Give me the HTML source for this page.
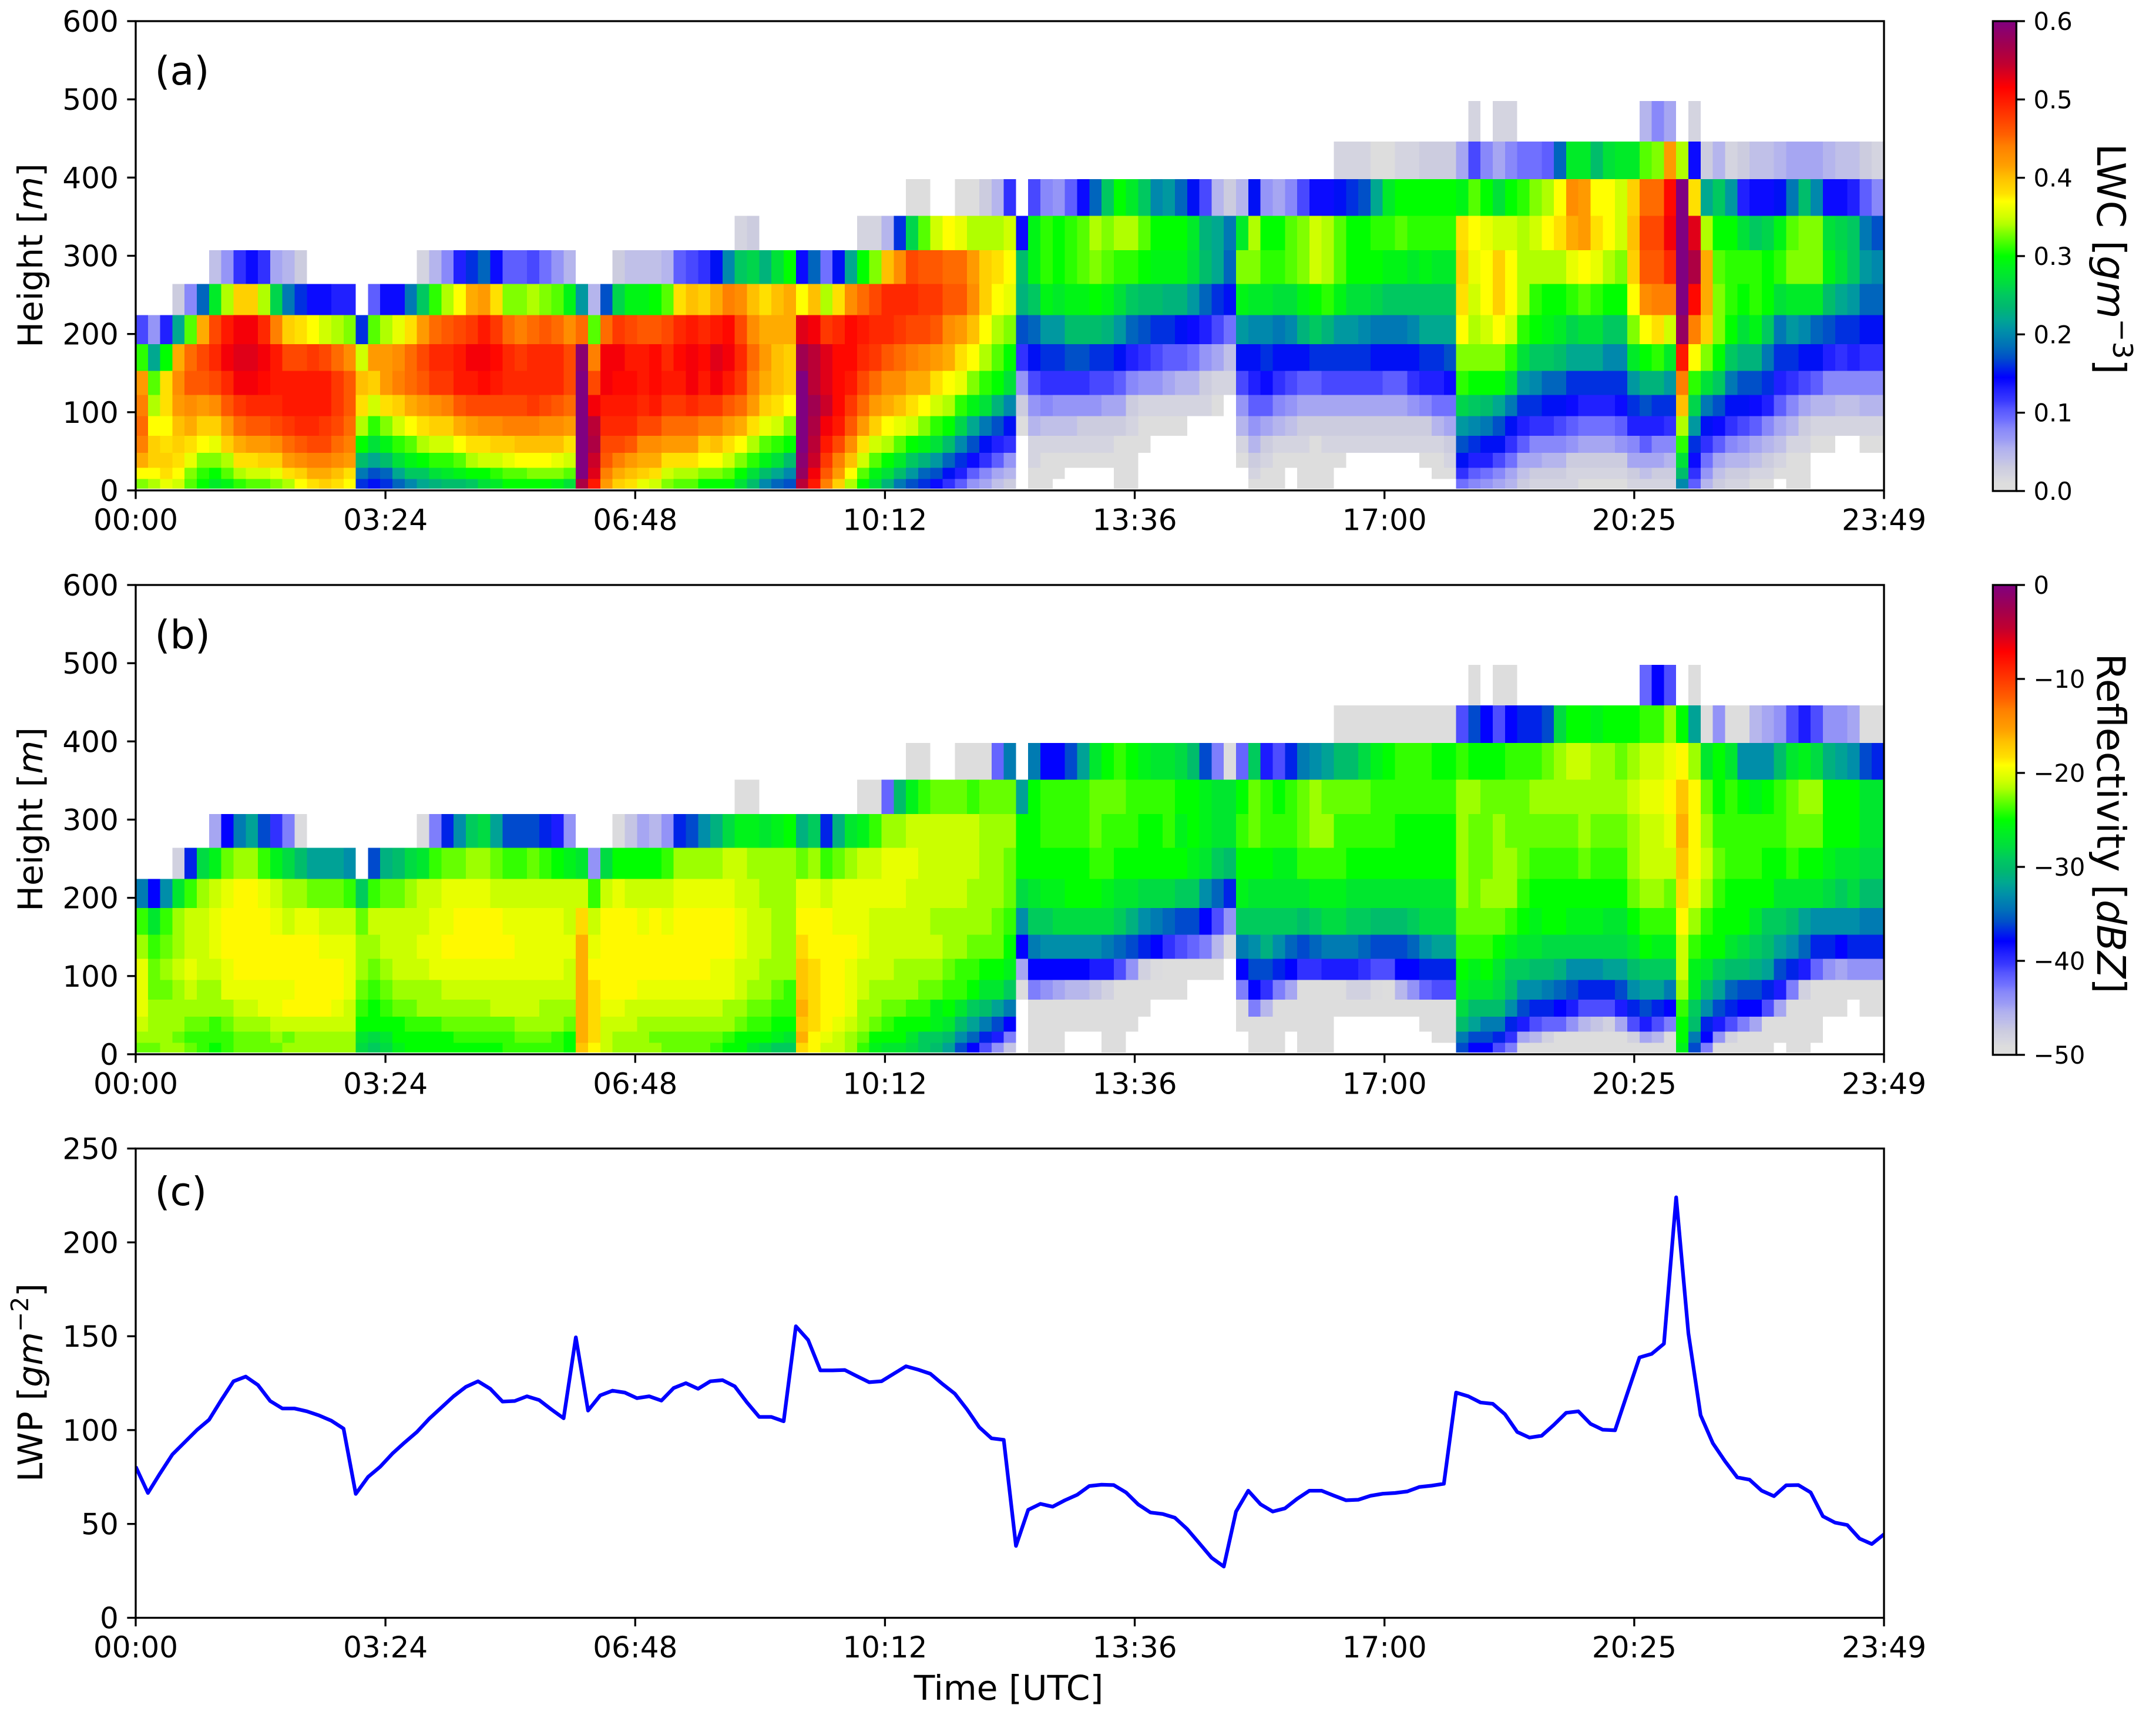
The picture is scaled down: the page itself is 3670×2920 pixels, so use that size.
<!DOCTYPE html>
<html lang="en">
<head>
<meta charset="utf-8">
<title>LWC, reflectivity and LWP time-height chart</title>
<style>
html,body{margin:0;padding:0;background:#fff;}
svg{display:block;}
text{font-family:"DejaVu Sans","Liberation Sans",sans-serif;fill:#000;}
</style>
</head>
<body>
<svg id="figure" xmlns="http://www.w3.org/2000/svg" width="3670" height="2920" viewBox="0 0 3670 2920">
<defs>
<linearGradient id="cmap" x1="0" y1="1" x2="0" y2="0"></linearGradient>
<clipPath id="lineClip"><rect x="231" y="1955.5" width="2976" height="799"></rect></clipPath>
</defs>
<rect x="0" y="0" width="3670" height="2920" fill="#fff"></rect>
<g id="panelA"></g>
<g id="panelB"></g>
<g id="panelC"></g>
<g id="barA"></g>
<g id="barB"></g>

<text x="263.5" y="144" font-size="66.67">(a)</text>
<text x="263.5" y="1104" font-size="66.67">(b)</text>
<text x="263.5" y="2052" font-size="66.67">(c)</text>

<text transform="translate(72,435) rotate(-90)" text-anchor="middle" font-size="58.33">Height [<tspan font-style="italic">m</tspan>]</text>
<text transform="translate(72,1395) rotate(-90)" text-anchor="middle" font-size="58.33">Height [<tspan font-style="italic">m</tspan>]</text>
<text transform="translate(72,2354) rotate(-90)" text-anchor="middle" font-size="58.33">LWP [<tspan font-style="italic">gm</tspan><tspan font-size="40.8" dy="-24">−2</tspan><tspan dy="24">]</tspan></text>
<text x="1717" y="2894" text-anchor="middle" font-size="58.33">Time [UTC]</text>
<text transform="translate(3570,441) rotate(90)" text-anchor="middle" font-size="66.67">LWC [<tspan font-style="italic">gm</tspan><tspan font-size="46.7" dy="-27">−3</tspan><tspan dy="27">]</tspan></text>
<text transform="translate(3570,1402) rotate(90)" text-anchor="middle" font-size="66.67">Reflectivity [<tspan font-style="italic">dBZ</tspan>]</text>
</svg>
<script>
const _ = null;

// Category labels and ticks
const timeTickLabels = ['00:00','03:24','06:48','10:12','13:36','17:00','20:25','23:49'];
const heightTicks = [0,100,200,300,400,500,600];
const lwpTicks = [0,50,100,150,200,250];
const lwcBarTicks = [0,0.1,0.2,0.3,0.4,0.5,0.6];
const dbzBarTicks = [-50,-40,-30,-20,-10,0];

// Height gate edges in metres (bottom of lowest gate to top of highest)
const gateEdges = [2.4,14.5,29,48,70,95,122,153,187,224,264,307,351,398,446,498];

// LWC in units of 0.01 g m-3; one array per height gate, one value per 10-minute sample
const lwcGate00 = [33,34,36,35,32,30,28,29,31,32,
32,33,34,37,38,39,38,37,16,15,
16,18,20,22,23,24,24,25,27,28,
30,30,30,30,29,27,56,50,42,39,
38,36,35,33,32,32,30,30,30,27,
24,20,18,17,55,50,44,39,34,30,
27,23,19,17,16,14,12,10,7,6,
4,3,_,1,1,_,_,_,_,_,
1,1,_,_,_,_,_,_,_,_,
_,1,1,1,_,1,1,1,_,_,
_,_,_,_,_,_,_,_,9,8,
7,6,5,3,2,2,2,2,1,1,
1,1,2,2,2,2,20,10,5,3,
2,2,1,1,_,1,1,_,_,_,
_,_,_];
const lwcGate01 = [37,37,38,37,33,31,30,32,34,35,
35,36,38,39,41,41,40,38,19,17,
18,22,25,25,27,28,29,30,30,31,
32,32,33,33,33,32,60,53,44,41,
40,39,38,35,34,34,33,33,32,30,
27,24,22,20,58,52,46,42,37,32,
29,27,24,21,18,17,15,13,10,8,
6,5,_,1,1,1,_,_,_,_,
1,1,_,_,_,_,_,_,_,_,
_,2,1,1,_,1,1,1,_,_,
_,_,_,_,_,_,1,1,12,10,
9,8,6,4,3,3,3,2,2,2,
2,2,3,4,3,3,24,12,7,4,
3,3,2,2,1,1,1,_,_,_,
_,_,_];
const lwcGate02 = [41,39,39,38,36,33,33,34,38,38,
39,39,42,43,44,44,43,42,24,22,
24,27,29,30,31,31,32,34,35,35,
36,37,37,37,36,35,60,54,46,44,
42,41,41,38,38,38,37,37,35,33,
31,29,27,24,59,54,48,44,40,35,
32,30,28,25,23,21,18,16,14,12,
10,7,_,2,1,1,1,1,1,1,
1,1,_,_,_,_,_,_,_,_,
1,3,2,1,1,1,1,1,1,_,
_,_,_,_,_,1,1,2,15,13,
13,11,9,6,6,5,5,3,3,3,
3,3,6,6,6,5,27,14,9,6,
5,5,4,3,2,1,1,_,_,_,
_,_,_];
const lwcGate03 = [44,39,38,39,38,37,36,39,41,42,
42,43,45,46,47,47,45,44,30,27,
29,31,32,34,35,35,37,38,38,39,
39,40,40,40,40,38,60,56,47,47,
46,43,43,42,42,42,39,40,38,37,
34,32,31,30,60,55,50,47,43,38,
35,34,32,30,29,27,24,20,17,15,
13,12,_,2,2,2,2,2,2,2,
1,1,1,_,_,_,_,_,_,_,
2,5,3,2,2,2,1,2,2,2,
2,2,2,2,2,2,2,3,17,16,
15,15,12,10,8,8,8,7,6,6,
6,7,8,10,8,8,31,16,12,10,
8,7,6,5,4,2,2,1,1,_,
_,1,1];
const lwcGate04 = [45,37,37,40,41,39,39,42,45,46,
46,47,48,49,49,48,47,45,34,31,
33,35,37,38,39,39,41,42,43,43,
44,44,44,43,43,42,60,55,49,49,
49,47,47,45,45,45,44,44,42,41,
38,36,35,33,60,56,52,50,46,42,
39,37,36,35,33,31,30,26,22,19,
17,15,1,5,4,4,4,3,3,3,
3,2,1,1,1,1,_,_,_,_,
5,7,6,5,4,3,3,3,3,3,
3,3,3,3,3,3,5,6,21,20,
19,17,15,13,12,12,11,10,9,9,
9,10,13,13,13,12,34,21,15,14,
12,11,10,8,6,5,3,2,2,2,
2,2,2];
const lwcGate05 = [44,34,38,42,43,42,43,46,48,49,
49,49,50,50,50,50,48,46,38,35,
38,39,41,42,43,44,46,47,47,47,
47,47,48,47,46,45,60,52,50,50,
50,49,50,48,48,49,48,48,46,45,
42,39,38,37,60,57,54,51,48,45,
42,41,40,38,37,35,34,31,29,27,
23,20,3,7,8,7,7,7,7,6,
6,3,2,2,2,2,2,2,1,_,
7,10,10,8,7,6,6,6,6,6,
6,6,6,6,7,8,9,9,26,25,
24,22,19,16,16,15,15,14,13,13,
13,14,16,17,16,16,40,26,19,17,
15,15,14,13,10,8,6,5,5,4,
4,5,5];
const lwcGate06 = [42,32,38,43,46,46,47,49,52,52,
51,50,50,50,50,50,48,46,40,39,
42,44,45,46,48,48,50,50,51,50,
49,49,49,49,49,47,60,47,52,51,
51,50,51,50,50,52,50,52,50,48,
44,41,40,39,60,55,53,51,50,47,
45,43,43,41,41,38,37,36,33,31,
30,27,7,11,12,12,12,12,11,11,
10,8,7,7,6,5,5,3,2,2,
11,13,14,12,11,10,10,11,11,11,
11,11,10,10,12,13,13,14,31,30,
30,30,27,21,20,18,18,16,16,16,
16,16,21,23,23,21,44,31,27,25,
19,17,17,16,13,12,11,10,8,8,
8,8,8];
const lwcGate07 = [31,22,30,41,45,47,49,52,53,53,
52,50,47,47,48,47,45,43,35,42,
42,43,45,47,49,49,50,52,52,51,
49,48,49,49,49,47,59,44,52,52,
50,50,51,49,51,52,51,53,52,49,
45,42,40,39,57,55,53,51,51,49,
48,46,45,44,43,42,41,38,37,34,
32,30,12,15,16,16,17,17,16,16,
15,13,12,11,10,10,9,7,6,4,
15,15,16,15,15,15,16,16,16,16,
16,15,15,15,15,16,16,17,33,33,
33,33,31,27,25,25,24,22,22,22,
20,20,28,30,31,28,50,37,33,30,
25,23,23,19,16,16,15,15,13,12,
13,12,12];
const lwcGate08 = [11,7,13,22,32,41,47,50,52,52,
49,44,39,38,37,35,34,33,16,32,
34,36,38,42,45,46,47,48,50,48,
45,44,45,46,45,43,45,32,45,48,
47,46,46,47,49,50,49,50,51,47,
43,41,41,41,53,52,48,49,51,50,
49,49,48,47,47,46,43,42,40,37,
34,33,17,18,21,21,24,24,24,23,
21,18,17,16,16,15,14,13,11,9,
21,20,20,19,20,23,25,23,21,21,
20,19,19,19,20,22,22,22,37,34,
35,37,35,31,30,29,28,26,27,27,
25,25,33,37,38,35,58,44,39,33,
30,27,29,25,19,21,20,18,17,16,
16,15,15];
const lwcGate09 = [_,_,_,3,8,18,28,34,39,39,
34,26,19,16,14,14,13,13,_,10,
14,14,19,25,31,34,37,41,42,38,
33,33,34,33,32,29,21,5,17,26,
29,29,30,32,38,40,39,41,44,43,
40,38,40,41,37,40,34,38,43,45,
47,49,49,49,48,48,46,46,43,39,
37,36,23,25,29,28,29,29,30,29,
27,25,24,24,23,23,21,18,16,15,
29,28,28,27,27,29,30,31,29,27,
27,26,25,25,25,25,25,25,38,35,
37,39,37,34,31,30,30,31,32,31,
30,30,37,43,44,44,60,51,41,33,
31,30,31,30,27,28,28,28,24,22,
21,18,18];
const lwcGate10 = [_,_,_,_,_,_,4,7,12,14,
12,6,5,3,_,_,_,_,_,_,
_,_,_,2,5,8,13,16,18,14,
10,10,11,9,7,5,_,_,_,3,
4,4,4,5,10,11,12,15,20,25,
26,23,27,30,14,18,9,15,22,30,
33,40,43,47,46,46,45,45,42,39,
38,37,24,29,31,30,31,32,33,32,
31,31,30,29,29,29,27,24,22,18,
33,33,31,31,32,33,35,34,32,30,
30,30,29,29,28,29,28,28,39,36,
37,39,37,34,34,34,34,36,37,36,
34,33,39,46,46,49,60,56,41,32,
31,31,31,30,31,33,33,33,29,27,
25,21,20];
const lwcGate11 = [_,_,_,_,_,_,_,_,_,_,
_,_,_,_,_,_,_,_,_,_,
_,_,_,_,_,_,_,_,_,_,
_,_,_,_,_,_,_,_,_,_,
_,_,_,_,_,_,_,_,_,2,
3,_,_,_,_,_,_,_,_,2,
2,5,16,26,32,35,37,36,34,34,
34,35,14,29,31,30,31,32,34,33,
34,34,32,30,30,30,28,23,22,19,
28,34,30,30,32,33,35,34,32,30,
30,31,31,32,31,31,31,31,38,37,
36,35,35,34,35,37,38,41,42,38,
37,35,40,47,47,52,60,53,34,30,
30,27,25,26,29,32,33,33,27,26,
25,19,17];
const lwcGate12 = [_,_,_,_,_,_,_,_,_,_,
_,_,_,_,_,_,_,_,_,_,
_,_,_,_,_,_,_,_,_,_,
_,_,_,_,_,_,_,_,_,_,
_,_,_,_,_,_,_,_,_,_,
_,_,_,_,_,_,_,_,_,_,
_,_,_,1,1,_,_,1,1,3,
5,12,_,11,8,7,10,14,18,25,
30,28,25,20,21,18,15,11,5,3,
5,15,7,6,8,11,14,14,15,16,
17,22,28,30,30,30,30,30,29,32,
30,27,30,31,33,34,37,43,42,37,
37,35,39,45,45,51,60,38,22,25,
21,13,14,14,15,19,24,20,14,14,
13,10,8];
const lwcGate13 = [_,_,_,_,_,_,_,_,_,_,
_,_,_,_,_,_,_,_,_,_,
_,_,_,_,_,_,_,_,_,_,
_,_,_,_,_,_,_,_,_,_,
_,_,_,_,_,_,_,_,_,_,
_,_,_,_,_,_,_,_,_,_,
_,_,_,_,_,_,_,_,_,_,
_,_,_,_,_,_,_,_,_,_,
_,_,_,_,_,_,_,_,_,_,
_,_,_,_,_,_,_,_,2,2,
2,1,1,2,2,3,3,3,6,11,
8,6,8,9,9,10,18,28,28,24,
27,28,28,32,33,42,34,14,3,5,
2,3,4,4,5,6,6,6,5,4,
4,3,2];
const lwcGate14 = [_,_,_,_,_,_,_,_,_,_,
_,_,_,_,_,_,_,_,_,_,
_,_,_,_,_,_,_,_,_,_,
_,_,_,_,_,_,_,_,_,_,
_,_,_,_,_,_,_,_,_,_,
_,_,_,_,_,_,_,_,_,_,
_,_,_,_,_,_,_,_,_,_,
_,_,_,_,_,_,_,_,_,_,
_,_,_,_,_,_,_,_,_,_,
_,_,_,_,_,_,_,_,_,_,
_,_,_,_,_,_,_,_,_,2,
_,2,2,_,_,_,_,_,_,_,
_,_,_,5,8,6,_,2,_,_,
_,_,_,_,_,_,_,_,_,_,
_,_,_];

// Reflectivity in dBZ; one array per height gate
const dbzGate00 = [-23,-23,-22,-22,-23,-24,-25,-24,-23,-23,
-23,-23,-22,-22,-22,-22,-22,-22,-28,-29,
-28,-26,-25,-25,-25,-25,-25,-25,-25,-25,
-24,-24,-24,-24,-24,-25,-17,-19,-21,-22,
-22,-22,-22,-23,-23,-23,-23,-24,-25,-25,
-27,-28,-29,-29,-18,-19,-21,-21,-22,-24,
-26,-27,-27,-28,-29,-30,-32,-36,-38,-41,
-44,-47,_,-50,-50,-50,_,_,_,-50,
-50,_,_,_,_,_,_,_,_,_,
_,-50,-50,-50,_,-50,-50,-50,_,_,
_,_,_,_,_,_,_,_,-36,-38,
-38,-41,-43,-50,-50,-50,-50,-50,-50,-50,
-50,-50,-50,-50,-50,-50,-26,-36,-43,-50,
-50,-50,-50,-50,_,-50,-50,_,_,_,
_,_,_];
const dbzGate01 = [-22,-22,-22,-23,-24,-24,-24,-24,-23,-23,
-23,-22,-23,-22,-22,-22,-22,-22,-27,-28,
-27,-25,-25,-25,-25,-25,-24,-24,-24,-24,
-24,-23,-23,-23,-24,-25,-16,-18,-21,-22,
-22,-22,-23,-23,-23,-23,-23,-23,-24,-25,
-25,-25,-26,-27,-16,-19,-20,-21,-22,-23,
-25,-25,-25,-27,-29,-29,-30,-33,-35,-37,
-39,-43,_,-50,-50,-50,_,_,_,-50,
-50,_,_,_,_,_,_,_,_,_,
_,-50,-50,-50,_,-50,-50,-50,_,_,
_,_,_,_,_,_,-50,-50,-34,-36,
-36,-37,-40,-45,-46,-48,-50,-50,-50,-50,
-50,-50,-48,-45,-46,-50,-25,-34,-38,-44,
-48,-50,-50,-50,-50,-50,-50,-50,_,_,
_,_,_];
const dbzGate02 = [-21,-22,-22,-22,-23,-23,-24,-23,-22,-22,
-22,-21,-21,-21,-21,-21,-21,-21,-25,-25,
-25,-25,-24,-24,-24,-23,-23,-23,-23,-23,
-23,-22,-22,-22,-22,-23,-16,-18,-21,-21,
-21,-22,-22,-22,-22,-22,-22,-22,-22,-23,
-24,-24,-25,-25,-17,-18,-19,-20,-21,-22,
-23,-24,-25,-25,-25,-26,-27,-30,-32,-34,
-36,-38,_,-50,-50,-50,-50,-50,-50,-50,
-50,-50,_,_,_,_,_,_,_,_,
-50,-50,-50,-50,-50,-50,-50,-50,_,_,
_,_,_,_,_,-50,-50,-50,-30,-32,
-34,-34,-37,-39,-41,-42,-42,-44,-46,-47,
-48,-45,-41,-39,-41,-43,-25,-30,-37,-39,
-41,-43,-45,-50,-50,-50,-50,-50,_,_,
_,_,_];
const dbzGate03 = [-20,-22,-22,-22,-22,-22,-22,-22,-21,-21,
-20,-20,-19,-19,-19,-19,-20,-21,-24,-25,
-24,-23,-23,-22,-22,-22,-22,-22,-22,-21,
-21,-21,-21,-22,-22,-22,-16,-18,-20,-20,
-21,-21,-21,-21,-21,-21,-21,-21,-22,-22,
-23,-23,-24,-24,-16,-18,-19,-19,-20,-22,
-22,-23,-23,-24,-24,-26,-25,-27,-29,-30,
-32,-34,_,-50,-50,-50,-50,-50,-50,-50,
-50,-50,-50,_,_,_,_,_,_,_,
-50,-43,-46,-50,-50,-50,-50,-50,-50,-50,
-50,-50,-50,-50,-50,-50,-50,-50,-28,-30,
-30,-30,-33,-36,-37,-37,-38,-39,-41,-41,
-41,-39,-37,-36,-37,-38,-24,-29,-33,-36,
-37,-38,-38,-41,-45,-50,-50,-50,-50,-50,
_,-50,-50];
const dbzGate04 = [-20,-23,-23,-22,-21,-22,-22,-20,-20,-20,
-20,-20,-20,-19,-19,-19,-19,-20,-23,-24,
-23,-22,-22,-22,-22,-21,-21,-21,-21,-21,
-21,-21,-21,-21,-21,-21,-16,-18,-19,-19,
-19,-20,-20,-20,-20,-20,-20,-20,-20,-21,
-22,-22,-23,-24,-17,-18,-19,-19,-20,-21,
-22,-22,-22,-22,-23,-23,-24,-24,-25,-27,
-27,-29,-50,-43,-44,-45,-46,-46,-47,-48,
-50,-50,-50,-50,-50,-50,_,_,_,_,
-43,-38,-40,-43,-45,-50,-50,-50,-50,-48,
-48,-49,-50,-46,-44,-42,-41,-41,-26,-27,
-27,-28,-30,-33,-33,-34,-35,-36,-37,-37,
-37,-36,-33,-32,-32,-34,-22,-26,-30,-32,
-35,-36,-36,-37,-39,-43,-48,-50,-50,-50,
-50,-50,-50];
const dbzGate05 = [-20,-23,-22,-21,-20,-21,-21,-20,-19,-19,
-19,-19,-19,-19,-19,-19,-19,-20,-22,-23,
-22,-21,-21,-21,-20,-20,-20,-20,-20,-20,
-20,-20,-20,-20,-20,-21,-16,-19,-19,-19,
-19,-19,-19,-19,-19,-19,-19,-20,-20,-21,
-21,-22,-22,-22,-17,-18,-19,-19,-20,-21,
-21,-21,-22,-22,-22,-22,-23,-24,-24,-25,
-25,-26,-45,-38,-38,-38,-38,-38,-39,-39,
-41,-44,-48,-49,-50,-50,-50,-50,-50,_,
-38,-36,-36,-37,-38,-40,-40,-39,-39,-39,
-40,-41,-41,-38,-38,-37,-37,-37,-25,-26,
-25,-27,-29,-29,-30,-30,-31,-33,-33,-33,
-32,-32,-30,-29,-29,-29,-21,-26,-27,-29,
-30,-30,-31,-32,-36,-37,-39,-42,-44,-45,
-44,-44,-44];
const dbzGate06 = [-22,-24,-23,-22,-21,-21,-20,-19,-19,-19,
-19,-19,-19,-19,-19,-20,-20,-20,-22,-22,
-21,-21,-21,-20,-20,-19,-19,-19,-19,-19,
-19,-20,-20,-20,-20,-20,-16,-20,-19,-19,
-19,-19,-19,-19,-19,-19,-19,-19,-19,-20,
-21,-21,-22,-22,-18,-19,-19,-19,-19,-20,
-21,-21,-21,-21,-21,-21,-22,-22,-23,-23,
-23,-25,-38,-34,-33,-33,-33,-33,-33,-34,
-35,-36,-37,-38,-40,-41,-42,-43,-46,-50,
-34,-33,-31,-33,-35,-36,-35,-34,-34,-34,
-35,-36,-36,-36,-35,-33,-32,-32,-24,-24,
-24,-25,-26,-27,-27,-28,-28,-28,-28,-28,
-28,-28,-27,-25,-26,-26,-21,-24,-25,-25,
-27,-28,-29,-30,-32,-33,-35,-37,-37,-38,
-37,-37,-37];
const dbzGate07 = [-24,-27,-24,-22,-21,-21,-20,-19,-19,-19,
-19,-20,-21,-20,-20,-21,-21,-21,-23,-21,
-21,-21,-21,-21,-20,-20,-19,-19,-19,-19,
-20,-20,-20,-20,-20,-21,-18,-21,-19,-19,
-19,-20,-19,-20,-19,-19,-19,-19,-19,-20,
-21,-21,-22,-22,-19,-19,-19,-20,-20,-20,
-21,-21,-21,-21,-21,-22,-22,-22,-22,-22,
-23,-24,-33,-29,-29,-28,-28,-28,-28,-28,
-29,-31,-33,-34,-35,-36,-36,-38,-41,-44,
-29,-29,-29,-29,-29,-30,-29,-28,-28,-29,
-29,-30,-30,-30,-29,-28,-28,-28,-23,-23,
-23,-23,-24,-25,-26,-25,-25,-26,-26,-26,
-27,-27,-25,-24,-24,-24,-19,-22,-24,-25,
-25,-25,-27,-29,-29,-30,-32,-33,-33,-33,
-33,-34,-34];
const dbzGate08 = [-34,-38,-33,-27,-24,-22,-21,-20,-19,-19,
-20,-21,-22,-22,-23,-23,-23,-24,-29,-24,
-23,-23,-22,-21,-21,-20,-20,-20,-20,-21,
-21,-21,-21,-21,-21,-21,-21,-24,-21,-20,
-21,-21,-21,-21,-20,-20,-20,-20,-20,-21,
-21,-22,-22,-22,-20,-20,-21,-20,-20,-20,
-20,-20,-20,-21,-21,-21,-21,-21,-22,-22,
-22,-23,-28,-27,-26,-26,-25,-25,-25,-26,
-27,-27,-28,-28,-28,-29,-29,-33,-35,-37,
-26,-27,-27,-27,-27,-27,-26,-26,-26,-27,
-27,-27,-27,-27,-27,-27,-27,-27,-22,-23,
-22,-22,-22,-24,-25,-25,-25,-25,-25,-25,
-25,-25,-23,-22,-22,-23,-18,-20,-22,-24,
-25,-25,-25,-25,-27,-27,-27,-27,-28,-29,
-28,-30,-30];
const dbzGate09 = [_,_,_,-48,-37,-28,-26,-23,-22,-22,
-24,-26,-28,-30,-32,-32,-32,-33,_,-36,
-31,-30,-28,-27,-24,-23,-23,-22,-22,-23,
-24,-24,-23,-24,-25,-26,-27,-44,-28,-25,
-25,-25,-25,-24,-22,-22,-22,-22,-21,-21,
-22,-22,-22,-22,-23,-22,-24,-23,-22,-21,
-21,-20,-20,-20,-21,-21,-21,-21,-21,-22,
-22,-23,-25,-25,-25,-25,-25,-25,-24,-24,
-25,-25,-25,-25,-25,-25,-26,-27,-29,-30,
-25,-25,-25,-26,-26,-24,-24,-24,-24,-25,
-25,-25,-25,-25,-25,-25,-25,-25,-22,-23,
-23,-22,-22,-23,-24,-24,-24,-24,-23,-24,
-24,-24,-22,-21,-21,-21,-17,-19,-21,-23,
-24,-24,-24,-25,-25,-24,-25,-25,-26,-27,
-27,-28,-28];
const dbzGate10 = [_,_,_,_,_,_,-45,-38,-34,-32,
-36,-40,-43,-49,_,_,_,_,_,_,
_,_,_,-49,-43,-37,-33,-29,-28,-32,
-36,-36,-36,-37,-39,-44,_,_,_,-49,
-47,-45,-46,-44,-37,-36,-33,-31,-28,-26,
-26,-27,-26,-25,-31,-29,-37,-31,-27,-26,
-24,-22,-22,-21,-21,-21,-21,-21,-21,-22,
-22,-22,-25,-25,-24,-24,-24,-24,-23,-24,
-24,-24,-25,-25,-24,-26,-25,-26,-27,-27,
-24,-23,-24,-24,-24,-23,-22,-22,-24,-24,
-24,-24,-24,-25,-25,-25,-25,-25,-22,-23,
-23,-22,-23,-23,-23,-23,-23,-23,-22,-23,
-23,-23,-22,-21,-21,-20,-16,-19,-22,-24,
-24,-24,-24,-24,-24,-23,-23,-23,-25,-25,
-25,-27,-27];
const dbzGate11 = [_,_,_,_,_,_,_,_,_,_,
_,_,_,_,_,_,_,_,_,_,
_,_,_,_,_,_,_,_,_,_,
_,_,_,_,_,_,_,_,_,_,
_,_,_,_,_,_,_,_,_,-50,
-50,_,_,_,_,_,_,_,_,-50,
-50,-42,-30,-26,-24,-23,-23,-23,-24,-23,
-23,-23,-32,-25,-24,-24,-24,-24,-23,-23,
-23,-24,-24,-24,-24,-25,-25,-26,-27,-27,
-25,-23,-24,-25,-24,-23,-22,-23,-23,-23,
-23,-24,-24,-24,-24,-24,-24,-24,-22,-22,
-23,-23,-23,-23,-22,-22,-22,-22,-22,-22,
-22,-22,-21,-20,-20,-19,-17,-19,-23,-25,
-24,-25,-26,-25,-24,-23,-22,-22,-25,-25,
-25,-27,-27];
const dbzGate12 = [_,_,_,_,_,_,_,_,_,_,
_,_,_,_,_,_,_,_,_,_,
_,_,_,_,_,_,_,_,_,_,
_,_,_,_,_,_,_,_,_,_,
_,_,_,_,_,_,_,_,_,_,
_,_,_,_,_,_,_,_,_,_,
_,_,_,-50,-50,_,_,-50,-50,-50,
-42,-34,_,-34,-38,-38,-36,-32,-27,-25,
-24,-25,-26,-27,-27,-28,-30,-36,-43,-50,
-42,-29,-39,-41,-37,-34,-33,-32,-30,-30,
-28,-26,-25,-24,-24,-24,-25,-25,-24,-25,
-25,-25,-24,-24,-24,-23,-22,-21,-21,-22,
-22,-23,-22,-21,-21,-20,-19,-22,-27,-25,
-27,-33,-33,-33,-30,-27,-26,-28,-31,-32,
-33,-36,-37];
const dbzGate13 = [_,_,_,_,_,_,_,_,_,_,
_,_,_,_,_,_,_,_,_,_,
_,_,_,_,_,_,_,_,_,_,
_,_,_,_,_,_,_,_,_,_,
_,_,_,_,_,_,_,_,_,_,
_,_,_,_,_,_,_,_,_,_,
_,_,_,_,_,_,_,_,_,_,
_,_,_,_,_,_,_,_,_,_,
_,_,_,_,_,_,_,_,_,_,
_,_,_,_,_,_,_,_,-50,-50,
-50,-50,-50,-50,-50,-50,-50,-50,-41,-36,
-38,-41,-38,-37,-37,-36,-28,-25,-25,-26,
-25,-25,-25,-24,-24,-22,-25,-32,-50,-44,
-50,-50,-46,-45,-44,-41,-39,-41,-44,-44,
-45,-50,-50];
const dbzGate14 = [_,_,_,_,_,_,_,_,_,_,
_,_,_,_,_,_,_,_,_,_,
_,_,_,_,_,_,_,_,_,_,
_,_,_,_,_,_,_,_,_,_,
_,_,_,_,_,_,_,_,_,_,
_,_,_,_,_,_,_,_,_,_,
_,_,_,_,_,_,_,_,_,_,
_,_,_,_,_,_,_,_,_,_,
_,_,_,_,_,_,_,_,_,_,
_,_,_,_,_,_,_,_,_,_,
_,_,_,_,_,_,_,_,_,-50,
_,-50,-50,_,_,_,_,_,_,_,
_,_,_,-42,-38,-41,_,-50,_,_,
_,_,_,_,_,_,_,_,_,_,
_,_,_];

// Liquid water path in g m-2, 144 samples
const lwpValues = [80.5,66.5,77,87,93.5,100,105.5,116,126,128.5,
124,115.5,111.5,111.5,110,107.8,105,100.8,66,75,
80.5,87.5,93.4,99,106,112,118,123,126,122,
115.2,115.5,118,116,111,106.3,149.4,110.4,118.5,121,
120,117,118,115.7,122.4,125,122,126,126.6,123.3,
114.7,107,107,104.7,155.3,148,131.8,131.8,132,128.7,
125.5,126,130,134,132.2,130,124.5,119.4,111,101.5,
95.6,94.8,38.3,57.5,60.7,59.2,62.6,65.5,70.2,70.9,
70.7,66.8,60.4,56.1,55.3,53.3,47.3,39.7,32,27.3,
56.6,67.7,60.5,56.6,58.3,63.4,67.7,67.7,65.1,62.6,
62.9,65,66.1,66.5,67.3,69.7,70.4,71.4,120,118,
114.7,114,108.4,99,96,97,102.8,109.2,110,103.3,
100.2,99.9,119.4,138.7,140.6,146,224,151.6,107.9,93,
83.4,74.8,73.6,67.7,64.8,70.6,70.7,66.8,54.1,50.7,
49.4,42.2,39.3,44.5];

const lwcGates = [lwcGate00,lwcGate01,lwcGate02,lwcGate03,lwcGate04,lwcGate05,lwcGate06,lwcGate07,lwcGate08,lwcGate09,lwcGate10,lwcGate11,lwcGate12,lwcGate13,lwcGate14];
const dbzGates = [dbzGate00,dbzGate01,dbzGate02,dbzGate03,dbzGate04,dbzGate05,dbzGate06,dbzGate07,dbzGate08,dbzGate09,dbzGate10,dbzGate11,dbzGate12,dbzGate13,dbzGate14];

// Colormap: stop position on a 0-60 scale and its colour
const cmapPositions = [0,1,2,3,4,5.5,6.5,8,9,10.5,11.5,13,14.5,16,17,18.5,20.5,22,23.5,25,26.5,28.5,30,31.5,33,34,35,37,38,40,41.5,44,45.5,47.5,49.5,51.5,53,54.5,57,60];
const cmapColors = ['#dddddd','#dddddd','#d4d4e0','#ccccdf','#c0c0e8','#b0b0ef','#9c9cf5','#8888fa','#7070ff','#5555ff','#3a3aff','#2020ff','#0000ff','#0030e0','#0050c8','#0070b8','#0090a8','#00a890','#00b870','#00c860','#00dc40','#00f020','#00ff00','#40ff00','#80ff00','#b0ff00','#d0ff00','#ffff00','#ffe000','#ffc000','#ffa000','#ff8000','#ff6000','#ff4000','#ff2000','#ff0000','#e00018','#c00030','#a00050','#800080'];

const NS = 'http://www.w3.org/2000/svg';
const AX_LEFT = 231, AX_RIGHT = 3207, SAMPLES = 143;
const TICK_LEN = 14.6, LINE_W = 3.33;

function hexToRgb(h){ return [parseInt(h.slice(1,3),16),parseInt(h.slice(3,5),16),parseInt(h.slice(5,7),16)]; }
function colorAt(u){
  const c = Math.max(0,Math.min(60,u));
  for(let k=1;k<cmapPositions.length;k++){
    if(c<=cmapPositions[k]){
      const t=(c-cmapPositions[k-1])/(cmapPositions[k]-cmapPositions[k-1]);
      const a=hexToRgb(cmapColors[k-1]), b=hexToRgb(cmapColors[k]);
      return 'rgb('+a.map((v,i)=>Math.round(v+(b[i]-v)*t)).join(',')+')';
    }
  }
  return cmapColors[cmapColors.length-1];
}
function xScale(i){ return AX_LEFT+(AX_RIGHT-AX_LEFT)*i/SAMPLES; }
function yScale(v,vMax,top,bottom){ return bottom-(bottom-top)*v/vMax; }
function make(tag,attrs,parent){
  const el=document.createElementNS(NS,tag);
  for(const k in attrs){ el.setAttribute(k,attrs[k]); }
  parent.appendChild(el);
  return el;
}

function drawHeatmap(parent,gates,toUnits,top,bottom,name){
  const layer=make('g',{'shape-rendering':'crispEdges'},parent);
  
  
  gates.forEach((gate,r)=>{
    const y0=yScale(gateEdges[r],600,top,bottom), y1=yScale(gateEdges[r+1],600,top,bottom);
    gate.forEach((value,i)=>{
      if(value===null) return;
      const cell=make('rect',{x:xScale(i),y:y1,width:xScale(i+1)-xScale(i),height:y0-y1,fill:colorAt(toUnits(value))},layer);
      
      
    });
  });
}

function drawAxes(parent,top,bottom,yTicks,yMax,name){
  const frame=make('rect',{x:AX_LEFT,y:top,width:AX_RIGHT-AX_LEFT,height:bottom-top,fill:'none',stroke:'#000','stroke-width':LINE_W},parent);
  
  
  timeTickLabels.forEach((label,j)=>{
    const x=AX_LEFT+(AX_RIGHT-AX_LEFT)*j/(timeTickLabels.length-1);
    const tick=make('line',{x1:x,x2:x,y1:bottom,y2:bottom+TICK_LEN,stroke:'#000','stroke-width':LINE_W},parent);
    
    
    const text=make('text',{x:x,y:bottom+67.5,'text-anchor':'middle','font-size':50},parent);
    text.textContent=label;
    
    
  });
  yTicks.forEach(v=>{
    const y=yScale(v,yMax,top,bottom);
    const tick=make('line',{x1:AX_LEFT-TICK_LEN,x2:AX_LEFT,y1:y,y2:y,stroke:'#000','stroke-width':LINE_W},parent);
    
    
    const text=make('text',{x:AX_LEFT-29.2,y:y+18,'text-anchor':'end','font-size':50},parent);
    text.textContent=String(v);
    
    
  });
}

function drawColorbar(parent,top,bottom,ticks,vMin,vMax,format,name){
  const L=3392.3,R=3432.3;
  const bar=make('rect',{x:L,y:top,width:R-L,height:bottom-top,fill:'url(#cmap)',stroke:'#000','stroke-width':LINE_W},parent);
  
  
  ticks.forEach(v=>{
    const y=bottom-(bottom-top)*(v-vMin)/(vMax-vMin);
    const tick=make('line',{x1:R,x2:R+TICK_LEN,y1:y,y2:y,stroke:'#000','stroke-width':LINE_W},parent);
    
    
    const text=make('text',{x:R+29.2,y:y+15,'font-size':41.67},parent);
    text.textContent=format(v);
    
    
  });
}

const gradient=document.getElementById('cmap');
cmapPositions.forEach((p,k)=>{
  make('stop',{offset:(p/60),'stop-color':cmapColors[k]},gradient);
});

const panelA=document.getElementById('panelA');
const panelB=document.getElementById('panelB');
const panelC=document.getElementById('panelC');

drawHeatmap(panelA,lwcGates,v=>v,36,835,'lwc');
drawAxes(panelA,36,835,heightTicks,600,'panel-a');

drawHeatmap(panelB,dbzGates,v=>(v+50)*60/50,996,1795,'reflectivity');
drawAxes(panelB,996,1795,heightTicks,600,'panel-b');

const lwpPoints=lwpValues.map((v,i)=>xScale(i).toFixed(2)+','+yScale(v,250,1955.5,2754.5).toFixed(2)).join(' ');
const lwpLine=make('polyline',{points:lwpPoints,fill:'none',stroke:'#0000ff','stroke-width':6.25,'stroke-linejoin':'round','clip-path':'url(#lineClip)'},panelC);


drawAxes(panelC,1955.5,2754.5,lwpTicks,250,'panel-c');

drawColorbar(document.getElementById('barA'),36,836,lwcBarTicks,0,0.6,v=>v.toFixed(1),'lwc-colorbar');
drawColorbar(document.getElementById('barB'),996,1796,dbzBarTicks,-50,0,v=>String(v).replace('-','\u2212'),'reflectivity-colorbar');
</script>
</body>
</html>
